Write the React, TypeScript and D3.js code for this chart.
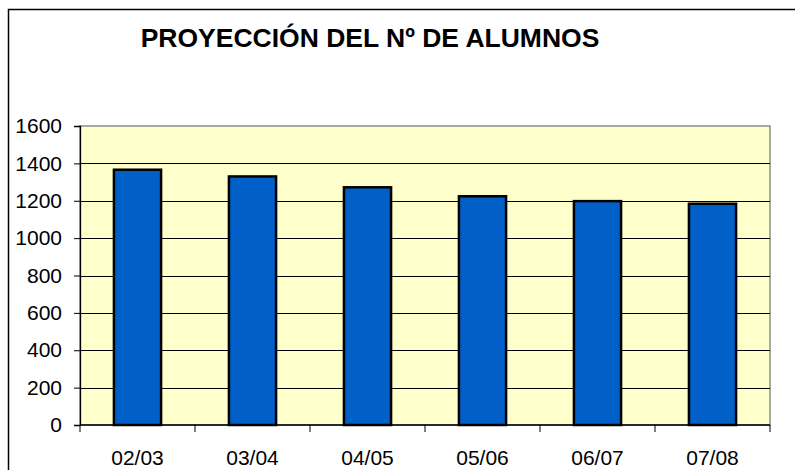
import { useRef, useEffect } from 'react';
import * as d3 from 'd3';

const cursos = ['02/03', '03/04', '04/05', '05/06', '06/07', '07/08'];
const alumnos = [1366, 1330, 1272, 1224, 1198, 1184];
const yTicks = [0, 200, 400, 600, 800, 1000, 1200, 1400, 1600];
const titulo = 'PROYECCIÓN DEL Nº DE ALUMNOS';

const W = 795;
const H = 470;

export default function App() {
  const svgRef = useRef<SVGSVGElement>(null);

  useEffect(() => {
    if (!svgRef.current) return;
    const svg = d3.select(svgRef.current);
    svg.selectAll('*').remove();

    const plot = { left: 80, right: 770, top: 126, bottom: 425 };
    const font = 'Liberation Sans, Arial, sans-serif';

    // outer chart border (runs past the window)
    svg.append('rect')
      .attr('x', 8.5).attr('y', 9.5)
      .attr('width', 900).attr('height', 600)
      .attr('fill', '#fff')
      .attr('stroke', '#000').attr('stroke-width', 1.5);

    svg.append('text')
      .attr('x', 370).attr('y', 47)
      .attr('text-anchor', 'middle')
      .attr('font-family', font).attr('font-weight', 'bold').attr('font-size', 26.5)
      .attr('fill', '#000')
      .text(titulo);

    const x = d3.scaleBand<string>()
      .domain(cursos)
      .range([plot.left, plot.right])
      .paddingInner(0.59)
      .paddingOuter(0.295);

    const y = d3.scaleLinear().domain([0, 1600]).range([plot.bottom, plot.top]);

    // plot area
    svg.append('rect')
      .attr('x', plot.left).attr('y', plot.top)
      .attr('width', plot.right - plot.left).attr('height', plot.bottom - plot.top)
      .attr('fill', '#ffffcc')
      .attr('stroke', '#8c8c8c').attr('stroke-width', 1.5);

    // gridlines
    svg.append('g').selectAll('line')
      .data(yTicks.filter((t) => t > 0 && t < 1600))
      .join('line')
      .attr('x1', plot.left).attr('x2', plot.right)
      .attr('y1', (d) => Math.round(y(d)) + 0.5).attr('y2', (d) => Math.round(y(d)) + 0.5)
      .attr('stroke', '#000').attr('stroke-width', 1);

    // bars
    svg.append('g').selectAll('rect')
      .data(alumnos)
      .join('rect')
      .attr('x', (_, i) => x(cursos[i])!)
      .attr('y', (d) => y(d))
      .attr('width', x.bandwidth())
      .attr('height', (d) => y(0) - y(d))
      .attr('fill', '#0060c8')
      .attr('stroke', '#000').attr('stroke-width', 2.5);

    // y axis
    const yAxis = svg.append('g')
      .attr('transform', `translate(${plot.left},0)`)
      .call(d3.axisLeft(y).tickValues(yTicks).tickSize(6).tickPadding(12).tickFormat(d3.format('d')));
    yAxis.select('.domain').attr('stroke', '#000').attr('stroke-width', 1.3);
    yAxis.selectAll('.tick line').attr('stroke', '#000');
    yAxis.selectAll('text')
      .attr('font-family', font).attr('font-size', 21).attr('fill', '#000');

    // x axis
    const step = x.step();
    const tickXs = d3.range(cursos.length + 1).map((i) => plot.left + i * step);
    const xAxis = svg.append('g');
    xAxis.append('line')
      .attr('x1', plot.left).attr('x2', plot.right)
      .attr('y1', plot.bottom).attr('y2', plot.bottom)
      .attr('stroke', '#000').attr('stroke-width', 1.3);
    xAxis.selectAll('line.tk')
      .data(tickXs)
      .join('line')
      .attr('class', 'tk')
      .attr('x1', (d) => d).attr('x2', (d) => d)
      .attr('y1', plot.bottom).attr('y2', plot.bottom + 7)
      .attr('stroke', '#000');
    xAxis.selectAll('text')
      .data(cursos)
      .join('text')
      .attr('x', (d) => x(d)! + x.bandwidth() / 2)
      .attr('y', 465)
      .attr('text-anchor', 'middle')
      .attr('font-family', font).attr('font-size', 21).attr('fill', '#000')
      .text((d) => d);
  }, []);

  return (
    <svg
      ref={svgRef}
      width={W}
      height={H}
      style={{ position: 'absolute', left: 0, top: 0, background: '#fff' }}
    />
  );
}
